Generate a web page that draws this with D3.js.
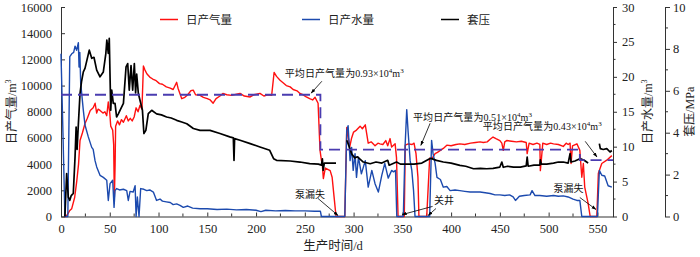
<!DOCTYPE html>
<html><head><meta charset="utf-8">
<script src="https://cdn.jsdelivr.net/npm/d3@7/dist/d3.min.js"></script>
<style>body{margin:0;background:#fff}svg{display:block}</style>
</head><body><svg id="c" width="700" height="257"></svg>
<script>
// ---------------- data ----------------
const gasDays = [3,5,7,9,11,14,16,18,19.5,22,24.6,27,30,33,35,36.6,38,40,43,45,46.9,48.5,50,51,53,54,54.7,55.5,56,58,60,62,64,67,69,71,73,75,77,79,81,83,84.5,86,88,91,94,97,101,104,108,112,115,118.6,120,123.8,127,130,133,135.6,138,142.6,146,150,153,156,159,163,166,170,175,180,183.6,188,194,198,204,208,212,216,218.5,221,224.6,228,231,235,238,242,245,248,251,255,258,260.5,263.6,265.6,267,268,269,271,276,278,280,282,291,293,296,298,300,303,306.7,309,312,315,318,322,325,327,330,333,335,337.4,339,342.6,344,345.6,352,353,356,360,362,364,366,367,375,378,381,383.6,386,389,392,395.6,400,405,409,414,420,425,429.7,433,437,440,443,446,450,452,453.5,455,457,462,467,472,477,478,480,484,488,491,491.5,492.5,494,498,502,505,510,515,518,520,522,523,524.5,529,532,534,535.6,537,540.5,542.6,549.4,551,554.5,559.6,564.8];
const gasValues = [0,0,200,460,600,1450,2600,4000,5800,6400,7100,7500,8100,8300,8650,7900,8200,8100,7900,8000,7700,8750,7900,6900,6600,5500,1450,4000,6900,7300,7000,7400,7200,7700,7300,7500,7300,7600,8300,8000,8500,8200,11500,11200,10900,10650,10500,10400,10150,10100,9900,9800,9700,10250,9800,9000,9100,9300,9600,9650,9300,9250,9100,9000,8900,8650,9000,9200,9400,9300,9250,9350,9400,9200,9130,9300,9400,9200,9300,9250,11000,10700,10400,10200,10000,9900,9700,9600,9400,9300,9150,9000,8900,9100,8650,5050,4300,3900,2900,3700,3500,3000,1500,0,0,6800,5300,6000,6450,6600,6900,6700,7000,5600,5700,5400,5600,5550,5500,5800,5400,5950,5300,5550,4500,0,0,5450,5550,5500,5600,4800,3000,0,0,4450,4500,4800,4900,5050,5200,5450,5400,5500,5550,5500,5600,5650,5700,5650,5700,5900,6070,5950,5800,5600,5050,5700,5800,5750,5700,5750,5650,4800,5600,5500,5600,5500,3500,4300,5600,5500,5600,5550,5500,5350,5600,5500,5600,4050,5400,5550,5050,3000,4050,2250,1000,0,0,3300,4050,4300,4650];

const waterDays = [0,2,4,7,9,11,13,14.4,16,17.8,18.5,19.3,20.2,22.9,24.6,28,31.5,33,34.9,36.6,40,43.4,46.9,48.5,50.3,53,54.4,55.4,57,60,64,67.4,69,70.8,74,76,77,78.3,80,81.7,85,87.9,91,94.7,98,101.5,104,108,112,115,118.6,122,125.4,130,135,142.6,150,160,170,180,190,200,205,210,220,230,240,250,260,266,267,291,293,294.4,296.4,298,299.6,301.5,303,305,308,312,315,318.7,322,325.4,328.9,332,335.5,339,341,343,344.3,351,352.8,354.5,356,358,359.7,361.5,363,378,380,381.5,383.6,385.5,389,392,395.6,399,404,409,414,419.5,425,429.7,435,440,445,450,455,460,463.6,466,470,475,481,483,486,491,498,505,510,515,520,525,529,532,534,550,552,554.5,557.5,561,564.8];
const waterValues = [23.3,12,0,0,22.9,23.3,23.5,24.4,23.8,24.9,21.4,23.5,19.1,15.2,13.1,11.4,9.9,9.6,8.0,7.1,5.9,5.6,5.2,2.3,4.7,5.2,1.3,3.7,4.0,3.8,3.9,3.7,2.3,3.6,3.5,4.4,0,2.8,0,4.0,3.9,3.7,3.8,3.5,2.3,2.5,2.2,2.1,2.0,1.7,1.8,1.6,1.3,1.5,1.2,1.1,1.1,1.0,1.05,0.95,1.0,0.9,0.7,0.9,0.8,0.85,0.8,0.8,0.75,0.75,0,0,12.3,13.0,8.0,9.9,6.6,9.0,5.6,8.5,6.1,8.0,4.2,6.6,4.7,3.5,5.9,7.6,5.5,6.6,6.4,6.6,0,0,10,15.3,12,8,6.6,3.7,0,0,10.9,9,7.6,5.6,5.3,4.2,4.3,3.7,3.8,3.7,3.6,3.5,3.5,3.5,3.4,3.3,3.1,3.1,3.0,3.1,2.8,2.3,2.9,3.0,3.1,3.7,3.0,3.0,2.9,3.0,2.9,2.95,2.8,2.5,2.3,2.3,0,0,6.6,5.9,5.8,4.4,4.2];

const pressureDays = [4,5.8,7.5,9,10.5,12.6,14.4,15.5,16.5,17.8,19.5,21,22.9,24.6,27,29,31.5,33.8,36.6,40,43.4,46,47,48.5,49.5,51,52,53.6,55.4,57,58.8,60.5,64,66.7,68.4,70,71.8,73.5,75.2,76.5,77.6,79.3,81,83.5,85,87,89.5,93,98,103,108.3,113,118.6,123.8,129,135.7,142.6,152.8,163,173,176.7,177.4,178,183.6,194,204,214,218,221,235,245,255,264,267,268,268.8,270,276,282,286,293,295,298,301,304,310,317,323,329,335,336.5,340,344,348,355,362,370,378,380,385,392,400,409,415,423,430,436.6,443,450,452,453.5,458,464,471,477,478,479,485,491,491.5,492.5,498,505,510,515,520,522,523,527,532,536,539,540.5,546,552,553,556,559.6,563,564.8];
const pressureValues = [0,2.05,0.92,0.77,1.0,1.1,2.84,4.27,3.2,4.4,5.87,6.43,6.9,7.07,7.55,7.94,7.55,7.6,6.99,6.67,6.9,7.79,8.42,7.79,8.5,5.07,6.03,5.4,5.4,4.75,4.9,5.07,5.4,7.14,7.3,6.03,7.2,6.03,7.3,5.9,6.8,5.87,5.55,5.07,3.96,4.11,4.91,5.07,4.9,4.85,4.75,4.7,4.59,4.51,4.43,4.2,4.11,4.11,3.96,3.8,3.75,2.68,3.72,3.64,3.48,3.32,3.16,2.76,2.68,2.65,2.6,2.52,2.5,2.45,2.75,2.2,2.55,2.55,2.55,null,3.64,3.4,3.0,2.8,2.85,2.6,2.52,2.6,2.55,2.68,2.45,2.52,2.6,2.5,2.5,2.5,2.55,2.76,2.76,2.68,2.6,2.55,2.44,2.4,2.28,2.3,2.28,2.3,2.36,2.6,2.35,2.4,2.36,2.36,2.42,2.84,2.4,2.45,2.45,2.7,2.5,2.5,2.55,2.6,2.6,2.55,3.0,2.6,2.65,2.76,2.7,2.6,2.55,null,3.48,3.24,3.2,3.24,3.08,3.15];

const avgSegments = [ // [startDay, endDay, average gas m3/d]
  [0, 266, 9300], [266, 532, 5100], [532, 566, 4300]
];
const gasTicks = [0,2000,4000,6000,8000,10000,12000,14000,16000];
const waterTicks = [0,5,10,15,20,25,30];
const pressureTicks = [0,2,4,6,8,10];
const dayTicks = [0,50,100,150,200,250,300,350,400,450,500,550];
const legendNames = ["日产气量","日产水量","套压"];

// annotations in data units (day, gas-axis value)
const notes = [
  {c:"平均日产气量为", n:"0.93×10", d:229.5, g:10650, a:[[267.5,10330],[256.5,9420]]},
  {c:"平均日产气量为", n:"0.51×10", d:361, g:7330, a:[[378.5,7120],[369,5430]]},
  {c:"平均日产气量为", n:"0.43×10", d:432.5, g:6580, a:[[537.5,5740],[549.5,4550]]},
  {c:"泵漏失", d:240, g:1430, a:[[263.5,1380],[284,80]]},
  {c:"关井", d:382.5, g:920, a:[[381,770],[350,150]], b:[[384.5,610],[376.5,80]]},
  {c:"泵漏失", d:505, g:1850, a:[[532,1450],[548.5,540]]}
];

// ---------------- chart ----------------
const svg = d3.select("#c");
const L=61, R=613, T=7, B=216.5;
const x = d3.scaleLinear().domain([0,566]).range([L,R]);
const yG = d3.scaleLinear().domain([0,16000]).range([B,T]);
const yW = d3.scaleLinear().domain([0,30]).range([B,T]);
const yP = d3.scaleLinear().domain([0,10]).range([B,T]);
const serif = "'Liberation Serif','Times New Roman','Noto Sans CJK SC',serif";
const cjk = "'Liberation Serif','Noto Sans CJK SC',sans-serif";
const axisColor = "#333";

function styleAxis(g){
  g.selectAll("path,line").attr("stroke",axisColor).attr("stroke-width",1);
  g.selectAll("text").attr("font-family",serif).attr("font-size",12.5).attr("fill","#222");
}

// bottom axis with minor ticks at 25
const dayMinor = d3.range(25,566,50);
svg.append("g").attr("transform",`translate(0,${B})`)
  .call(d3.axisBottom(x).tickValues(dayTicks).tickSizeInner(-4).tickSizeOuter(0).tickPadding(8).tickFormat(d3.format("d")))
  .call(styleAxis);
svg.append("g").attr("transform",`translate(0,${B})`).selectAll("line").data(dayMinor).join("line")
  .attr("x1",d=>x(d)).attr("x2",d=>x(d)).attr("y1",0).attr("y2",-3).attr("stroke",axisColor);

// left axis
svg.append("g").attr("transform",`translate(${L},0)`)
  .call(d3.axisLeft(yG).tickValues(gasTicks).tickSizeInner(-4).tickSizeOuter(0).tickPadding(9).tickFormat(d3.format("d")))
  .call(styleAxis);

// water axis
svg.append("g").attr("transform",`translate(${R},0)`)
  .call(d3.axisRight(yW).tickValues(waterTicks).tickSizeInner(4).tickSizeOuter(0).tickPadding(5))
  .call(styleAxis);
svg.append("g").attr("transform",`translate(${R},0)`).selectAll("line").data(d3.range(2.5,30,5)).join("line")
  .attr("x1",0).attr("x2",2.5).attr("y1",d=>yW(d)).attr("y2",d=>yW(d)).attr("stroke",axisColor);

// pressure axis
const PX = 665;
svg.append("g").attr("transform",`translate(${PX},0)`)
  .call(d3.axisRight(yP).tickValues(pressureTicks).tickSizeInner(5).tickSizeOuter(0).tickPadding(3))
  .call(styleAxis);
svg.append("g").attr("transform",`translate(${PX},0)`).selectAll("line").data(d3.range(1,10,2)).join("line")
  .attr("x1",0).attr("x2",3).attr("y1",d=>yP(d)).attr("y2",d=>yP(d)).attr("stroke",axisColor);

// axis titles
function vLabel(cx, cy, parts){
  const t = svg.append("text").attr("transform",`translate(${cx},${cy}) rotate(-90)`)
    .attr("text-anchor","middle").attr("dominant-baseline","central")
    .attr("font-family",cjk).attr("font-size",12).attr("fill","#222");
  t.append("tspan").text(parts[0]);
  if(parts[1]) t.append("tspan").attr("dy",-4).attr("font-size",8).text(parts[1]);
}
vLabel(12, (T+B)/2, ["日产气量/m","3"]);
vLabel(648, (T+B)/2, ["日产水量/m","3"]);
vLabel(690, (T+B)/2, ["套压/MPa"]);
svg.append("text").attr("x",(L+R)/2-4).attr("y",250).attr("text-anchor","middle")
  .attr("font-family",cjk).attr("font-size",12.5).attr("fill","#222").text("生产时间/d");

// series
const gasData = gasDays.map((d,i)=>[d,gasValues[i]]);
const waterData = waterDays.map((d,i)=>[d,waterValues[i]]);
const presData = pressureDays.map((d,i)=>[d,pressureValues[i]]);
const red="#ff1010", blue="#1c4aae", black="#000";

svg.append("path").datum(gasData).attr("fill","none").attr("stroke",red).attr("stroke-width",1.4)
  .attr("stroke-linejoin","round")
  .attr("d",d3.line().x(d=>x(d[0])).y(d=>yG(d[1])));
svg.append("path").datum(waterData).attr("fill","none").attr("stroke",blue).attr("stroke-width",1.4)
  .attr("stroke-linejoin","round")
  .attr("d",d3.line().x(d=>x(d[0])).y(d=>yW(d[1])));
svg.append("path").datum(presData).attr("fill","none").attr("stroke",black).attr("stroke-width",1.7)
  .attr("stroke-linejoin","round")
  .attr("d",d3.line().defined(d=>d[1]!==null).x(d=>x(d[0])).y(d=>yP(d[1])));

// average dashed line
const avgPts = [];
avgSegments.forEach(s=>{ avgPts.push([s[0],s[2]]); avgPts.push([s[1],s[2]]); });
svg.append("path").datum(avgPts).attr("fill","none").attr("stroke","#4a3cb0").attr("stroke-width",1.8)
  .attr("stroke-dasharray","11,6")
  .attr("d",d3.line().x(d=>x(d[0])).y(d=>yG(d[1])));

// legend
const legX = [160,302,441];
const legC = [red,blue,black];
legendNames.forEach((n,i)=>{
  svg.append("line").attr("x1",legX[i]).attr("x2",legX[i]+18).attr("y1",19.5).attr("y2",19.5)
    .attr("stroke",legC[i]).attr("stroke-width",1.5);
  svg.append("text").attr("x",legX[i]+26).attr("y",24).attr("font-family",cjk).attr("font-size",11.5)
    .attr("fill","#222").text(n);
});

// annotations
svg.append("defs").append("marker").attr("id","ah").attr("viewBox","0 0 10 10").attr("refX",9).attr("refY",5)
  .attr("markerWidth",6).attr("markerHeight",6).attr("orient","auto")
  .append("path").attr("d","M0,1.5L10,5L0,8.5Z").attr("fill","#000");
notes.forEach(n=>{
  const t = svg.append("text").attr("x",x(n.d)).attr("y",yG(n.g)).attr("font-family",cjk)
    .attr("font-size",10).attr("fill","#111");
  t.append("tspan").text(n.c);
  if(n.n){
    t.append("tspan").attr("font-family",serif).text(n.n);
    t.append("tspan").attr("dy",-4).attr("font-size",7).attr("font-family",serif).text("4");
    t.append("tspan").attr("dy",4).attr("font-family",serif).text("m");
    t.append("tspan").attr("dy",-4).attr("font-size",7).attr("font-family",serif).text("3");
    const w = t.node().getComputedTextLength();
    const target = 119;
    const nChars = (n.c + n.n + "4m3").length;
    t.attr("letter-spacing", ((target-w)/nChars).toFixed(2));
  }
  [n.a,n.b].filter(Boolean).forEach(a=>{
    svg.append("line").attr("x1",x(a[0][0])).attr("y1",yG(a[0][1])).attr("x2",x(a[1][0])).attr("y2",yG(a[1][1]))
      .attr("stroke","#000").attr("stroke-width",0.8).attr("marker-end","url(#ah)");
  });
});
</script></body></html>
